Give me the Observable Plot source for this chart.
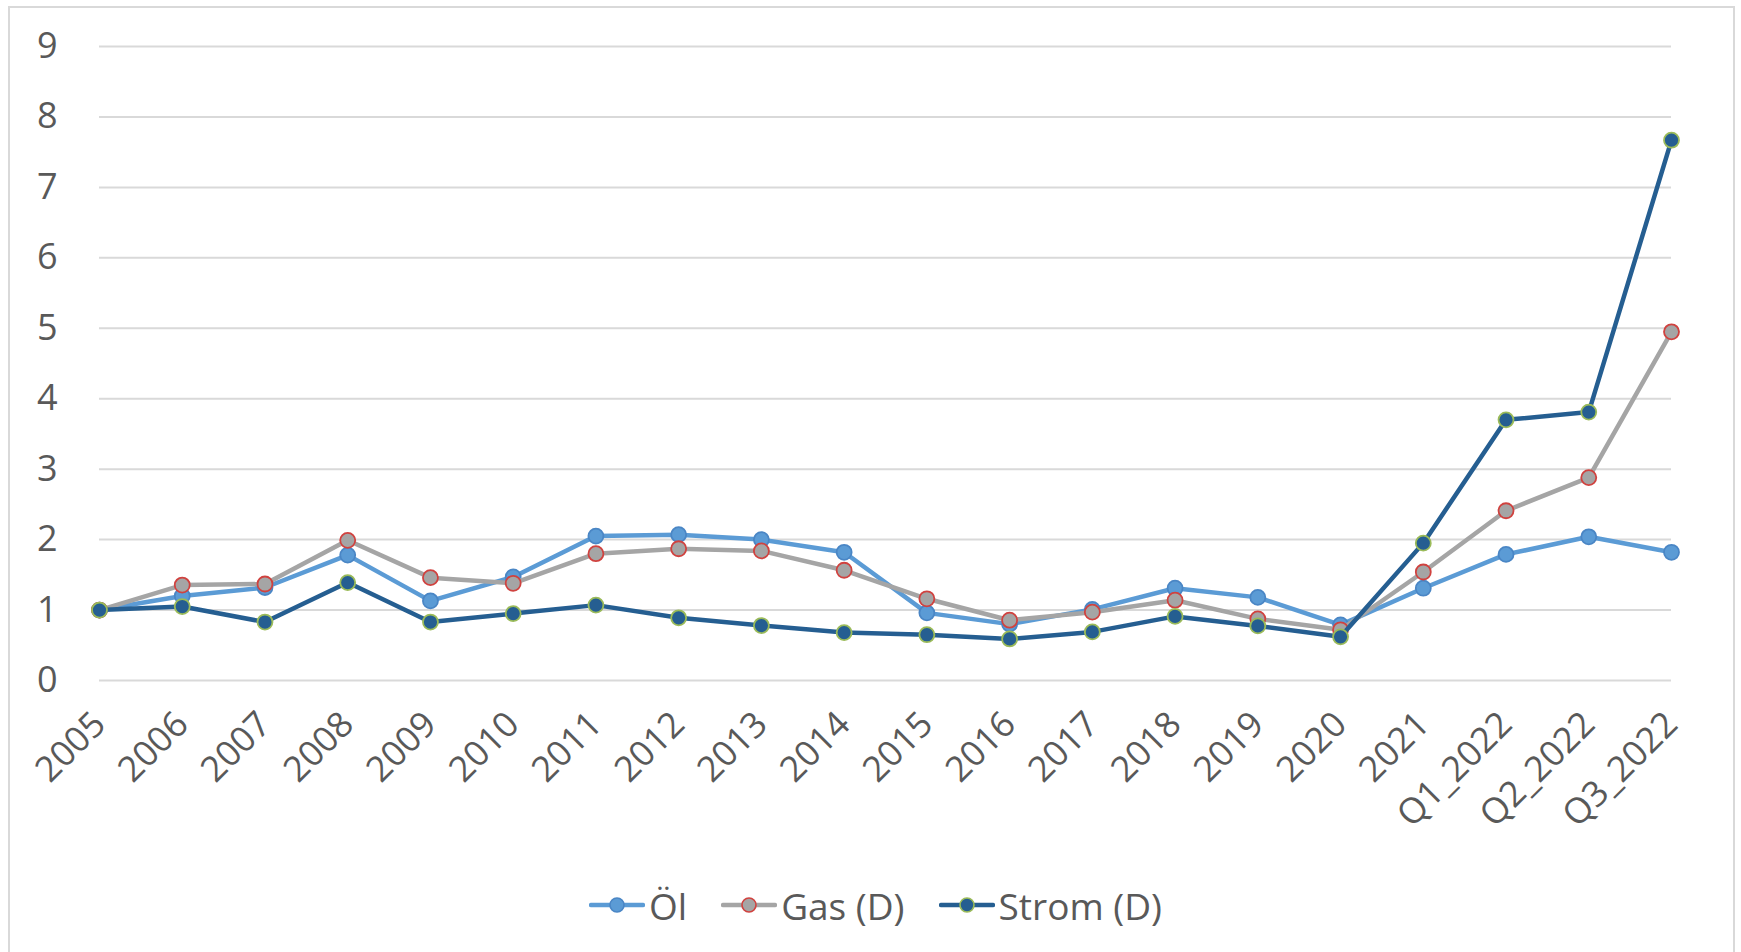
<!DOCTYPE html>
<html>
<head>
<meta charset="utf-8">
<script src="https://cdn.jsdelivr.net/npm/d3@7"></script>
<script src="https://cdn.jsdelivr.net/npm/@observablehq/plot@0.6"></script>
<style>
  html, body { margin: 0; padding: 0; background: #fff; overflow: hidden; }
  #wrap { position: relative; width: 1741px; height: 952px; font-family: "Open Sans", sans-serif; }
  #frame { position: absolute; left: 8px; top: 6px; width: 1727px; height: 960px; border: 2px solid #D9D9D9; box-sizing: border-box; pointer-events: none; }
  #legend { position: absolute; left: 5px; top: 858px; width: 1741px; height: 94px; display: flex; justify-content: center; align-items: center; gap: 34px; color: #595959; font-size: 37px; }
  .item { display: flex; align-items: center; gap: 4px; }
  .item svg { display: block; }
</style>
</head>
<body>
<div id="wrap">
  <div id="chart"></div>
  <div id="legend"></div>
  <div id="frame"></div>
</div>
<script>
const categories = ["2005","2006","2007","2008","2009","2010","2011","2012","2013","2014","2015","2016","2017","2018","2019","2020","2021","Q1_2022","Q2_2022","Q3_2022"];
const oel   = [1.00, 1.20, 1.32, 1.78, 1.13, 1.47, 2.05, 2.07, 2.00, 1.82, 0.96, 0.80, 1.01, 1.31, 1.18, 0.79, 1.31, 1.79, 2.04, 1.82];
const gas   = [1.00, 1.355, 1.37, 1.99, 1.46, 1.38, 1.80, 1.87, 1.84, 1.565, 1.16, 0.856, 0.97, 1.14, 0.875, 0.72, 1.54, 2.41, 2.88, 4.95];
const strom = [1.00, 1.05, 0.83, 1.39, 0.83, 0.95, 1.07, 0.89, 0.78, 0.68, 0.65, 0.59, 0.69, 0.91, 0.775, 0.62, 1.95, 3.70, 3.81, 7.67];
const yTicks = [0,1,2,3,4,5,6,7,8,9];
const seriesNames = ["Öl", "Gas (D)", "Strom (D)"];

const series = [
  {name: seriesNames[0], values: oel,   line: "#5B9BD5", fill: "#5B9BD5", stroke: "#4A86C5"},
  {name: seriesNames[1], values: gas,   line: "#A5A5A5", fill: "#A5A5A5", stroke: "#D0423F"},
  {name: seriesNames[2], values: strom, line: "#255E91", fill: "#255E91", stroke: "#9BBB59"}
];

const marks = [
  Plot.ruleY(yTicks, {stroke: "#D9D9D9", strokeWidth: 2}),
  Plot.axisY(yTicks, {tickSize: 0, tickPadding: 42, fontSize: 36, fill: "#595959", tickFormat: d => String(d), label: null}),
  Plot.text(categories, {x: d => d, frameAnchor: "bottom", rotate: -45, textAnchor: "end", dx: 8, dy: 46, fontSize: 35.5, fill: "#595959"})
];
for (const s of series) {
  const data = categories.map((c, i) => ({c, v: s.values[i]}));
  marks.push(Plot.line(data, {x: "c", y: "v", stroke: s.line, strokeWidth: 4.5, strokeLinejoin: "round", strokeLinecap: "round"}));
  marks.push(Plot.dot(data, {x: "c", y: "v", r: 7.5, fill: s.fill, stroke: s.stroke, strokeWidth: 1.8}));
}

const chart = Plot.plot({
  width: 1741,
  height: 860,
  marginLeft: 99,
  marginRight: 70,
  marginTop: 46,
  marginBottom: 180,
  style: {fontFamily: "'Open Sans', sans-serif", color: "#595959", background: "transparent"},
  x: {type: "point", domain: categories, padding: 0, round: false, axis: null},
  y: {domain: [0, 9], axis: null},
  marks
});
document.getElementById("chart").appendChild(chart);

const legend = document.getElementById("legend");
for (const s of series) {
  const item = document.createElement("div");
  item.className = "item";
  item.innerHTML = `<svg width="56" height="20" viewBox="0 0 56 20">
    <line x1="2" y1="10" x2="54" y2="10" stroke="${s.line}" stroke-width="4.5" stroke-linecap="round"/>
    <circle cx="28" cy="10" r="7" fill="${s.fill}" stroke="${s.stroke}" stroke-width="1.6"/>
  </svg><span>${s.name}</span>`;
  legend.appendChild(item);
}
</script>
</body>
</html>
